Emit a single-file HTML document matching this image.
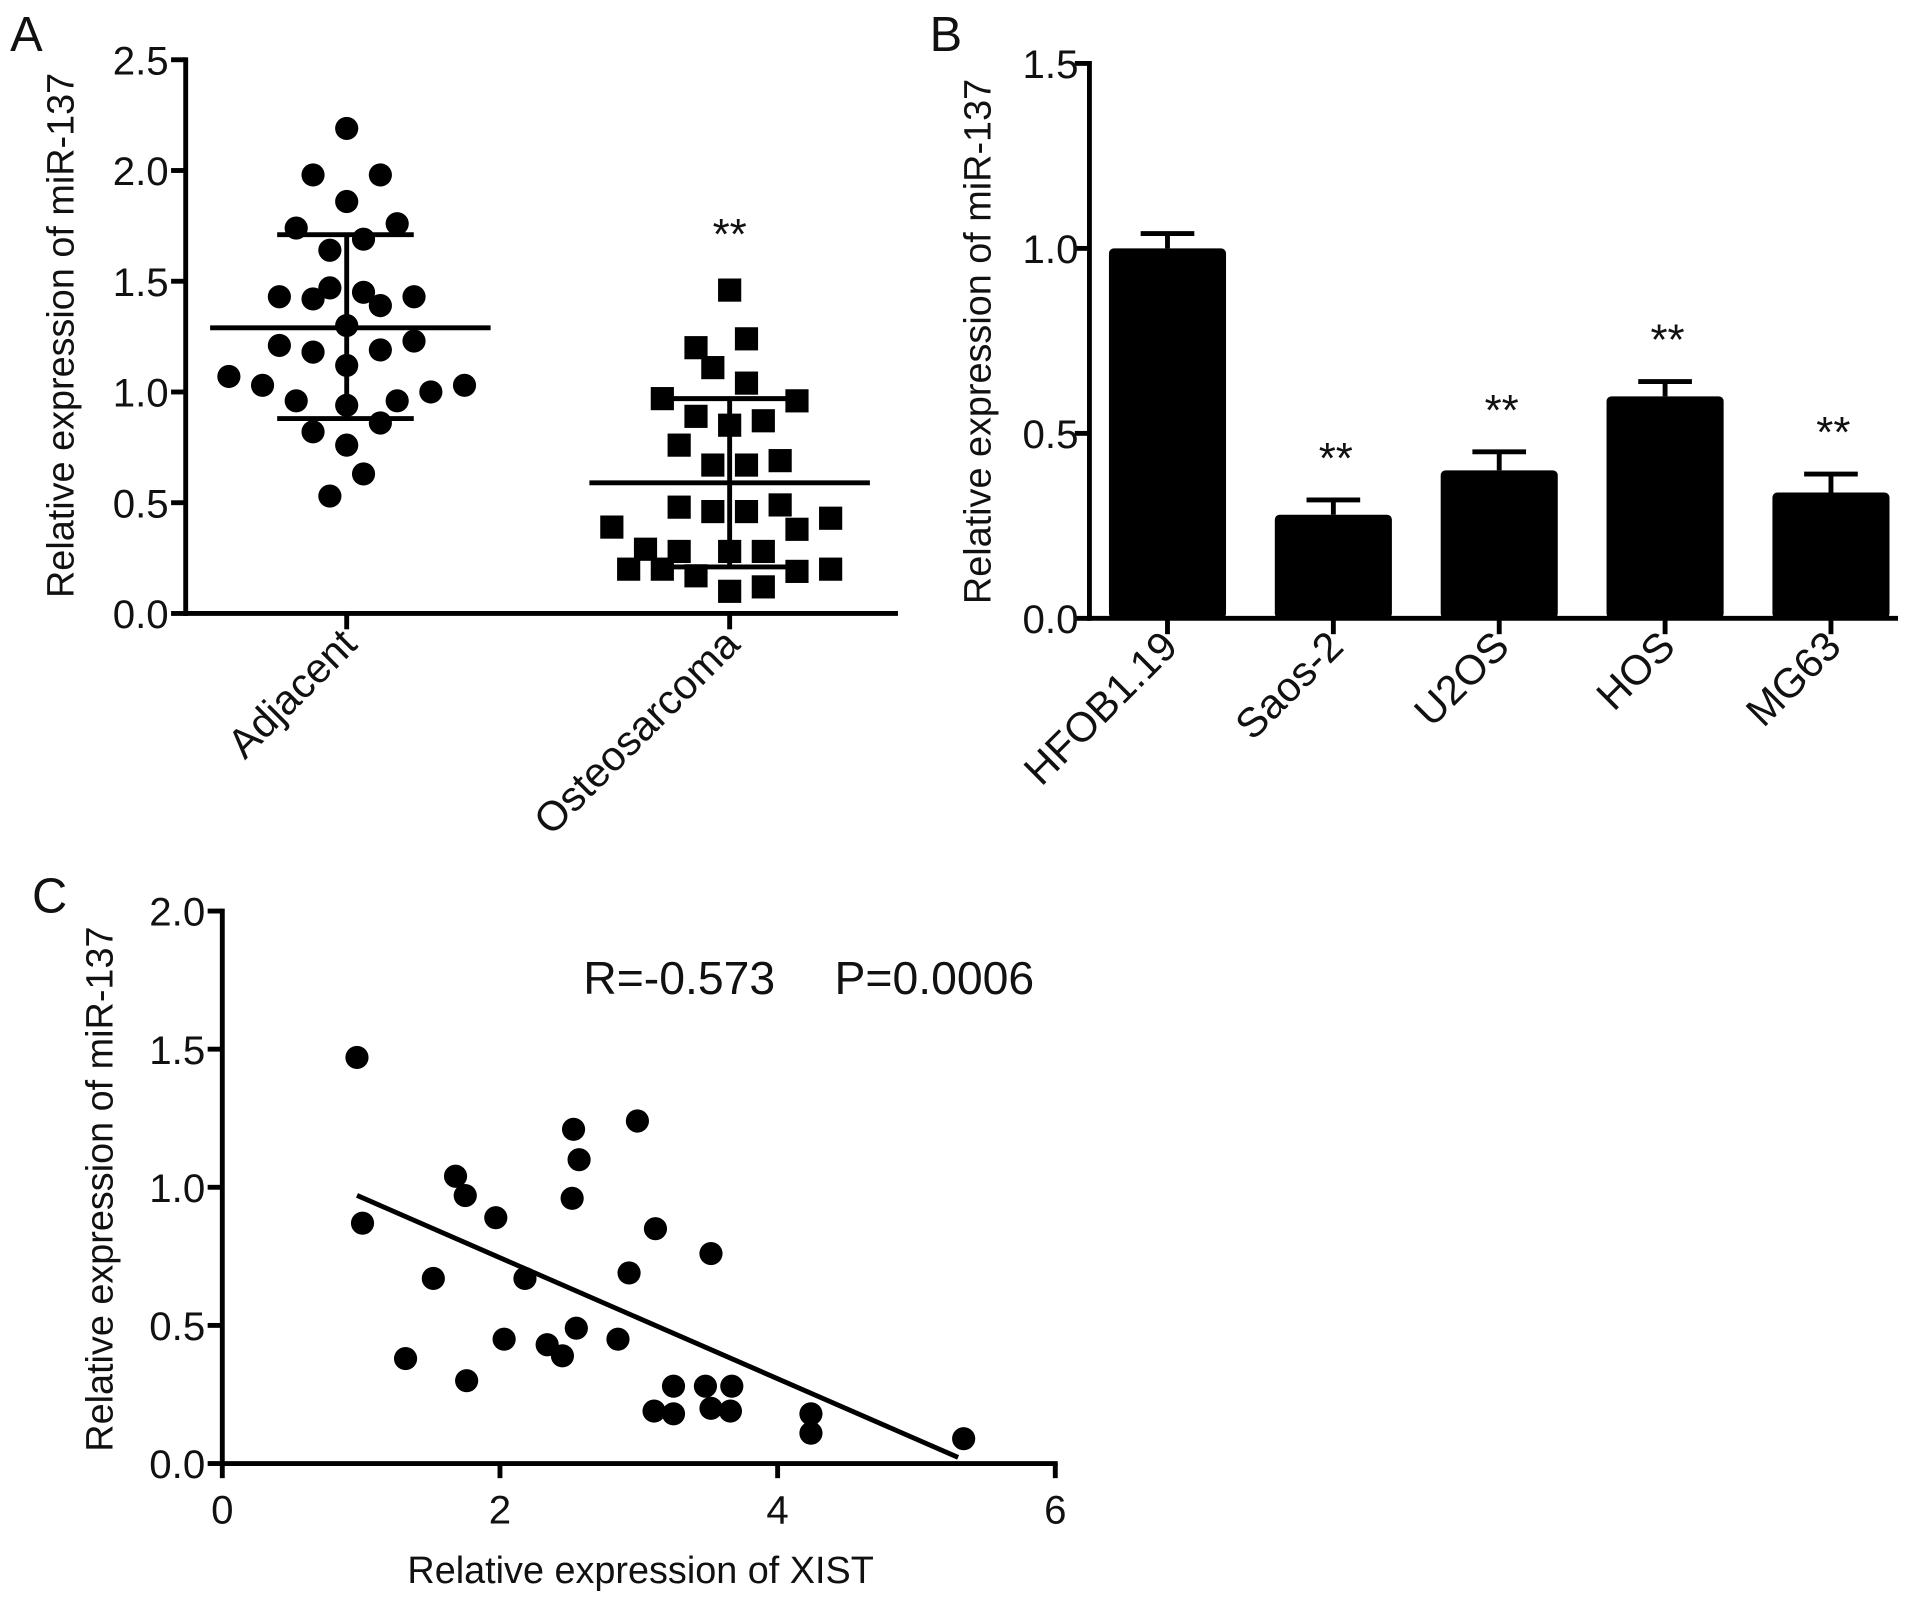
<!DOCTYPE html>
<html><head><meta charset="utf-8"><style>
html,body{margin:0;padding:0;background:#fff}
svg{display:block}
text{font-family:"Liberation Sans",Arial,sans-serif;fill:#111}
</style></head><body>
<svg id="fig" width="1913" height="1605" viewBox="0 0 1568 1316" xmlns="http://www.w3.org/2000/svg"></svg>
<script>
// Panel A data
const adjValues=[2.19,1.98,1.98,1.86,1.74,1.76,1.69,1.64,1.47,1.43,1.42,1.45,1.39,1.43,1.30,1.21,1.18,1.19,1.23,1.12,1.07,1.03,0.96,0.94,0.96,1.00,1.03,0.82,0.86,0.76,0.63,0.53];
const adjSlots=[0,-2,2,0,-3,3,1,-1,-1,-4,-2,1,2,4,0,-4,-2,2,4,0,-7,-5,-3,0,3,5,7,-2,2,0,1,-1];
const ostValues=[1.46,1.20,1.24,1.11,1.04,0.97,0.96,0.89,0.85,0.87,0.76,0.67,0.67,0.69,0.48,0.46,0.46,0.49,0.39,0.43,0.38,0.29,0.28,0.28,0.28,0.20,0.20,0.17,0.19,0.20,0.10,0.12];
const ostSlots=[0,-2,1,-1,1,-4,4,-2,0,2,-3,-1,1,3,-3,-1,1,3,-7,6,4,-5,-3,0,2,-6,-4,-2,4,6,0,2];
const aMeans=[1.29,0.59];
const aSdLow=[0.88,0.21];
const aSdHigh=[1.71,0.97];
const aCategories=["Adjacent","Osteosarcoma"];
const aTicks=["0.0","0.5","1.0","1.5","2.0","2.5"];
// Panel B data
const bCategories=["HFOB1.19","Saos-2","U2OS","HOS","MG63"];
const bValues=[1.0,0.28,0.40,0.60,0.34];
const bErrors=[0.04,0.04,0.05,0.04,0.05];
const bStars=["","**","**","**","**"];
const bTicks=["0.0","0.5","1.0","1.5"];
// Panel C data
const cX=[0.97,1.01,1.32,1.52,1.68,1.75,1.76,1.97,2.03,2.18,2.34,2.45,2.52,2.53,2.57,2.55,2.85,2.93,2.99,3.12,3.11,3.25,3.25,3.52,3.48,3.52,3.67,3.66,4.24,4.24,5.34];
const cY=[1.47,0.87,0.38,0.67,1.04,0.97,0.30,0.89,0.45,0.67,0.43,0.39,0.96,1.21,1.10,0.49,0.45,0.69,1.24,0.85,0.19,0.28,0.18,0.76,0.28,0.20,0.28,0.19,0.18,0.11,0.09];
const cFit=[1.183,-0.219];
const cFitRange=[0.97,5.3];
const cXTicks=["0","2","4","6"];
const cYTicks=["0.0","0.5","1.0","1.5","2.0"];

const NS="http://www.w3.org/2000/svg";
const svg=document.getElementById('fig');
function mk(tag,attrs,parent,txt){const e=document.createElementNS(NS,tag);for(const k in attrs)e.setAttribute(k,attrs[k]);if(txt!==undefined)e.textContent=txt;(parent||svg).appendChild(e);return e;}
function line(x1,y1,x2,y2,p,w){return mk('line',{x1,y1,x2,y2,stroke:'#000','stroke-width':w||4},p);}

// ---------- Panel A ----------
const gA=mk('g',{});


const ayA=v=>503-v*(503-49)/2.5;
const axA=i=>[284,598][i];
const slotW=13.8;
let t=mk('text',{x:8,y:42,'font-size':40},gA,'A');

line(152,47,152,505,gA);
line(150,503,736,503,gA);
aTicks.forEach((lb,i)=>{const v=parseFloat(lb);line(140,ayA(v),152,ayA(v),gA);
 const e=mk('text',{x:138,y:ayA(v)+12,'font-size':33,'text-anchor':'end'},gA,lb);
 });
t=mk('text',{transform:'translate(60,275) rotate(-90)','font-size':31,'text-anchor':'middle'},gA,'Relative expression of miR-137');

aCategories.forEach((c,i)=>{line(axA(i),503,axA(i),516,gA);
 const e=mk('text',{transform:`translate(${axA(i)+10},${530}) rotate(-45)`,'font-size':34,'text-anchor':'end'},gA,c);
 });
adjValues.forEach((v,i)=>{const e=mk('circle',{cx:axA(0)+adjSlots[i]*slotW,cy:ayA(v),r:9.5,fill:'#000'},gA);
 });
ostValues.forEach((v,i)=>{const e=mk('rect',{x:axA(1)+ostSlots[i]*slotW-9.5,y:ayA(v)-9.5,width:19,height:19,fill:'#000'},gA);
 });
[[112,118,57,55],[115,115,63,60]].forEach((w,i)=>{const cx=axA(i);
 line(cx-w[0],ayA(aMeans[i]),cx+w[1],ayA(aMeans[i]),gA);
 line(cx,ayA(aSdLow[i]),cx,ayA(aSdHigh[i]),gA);
 line(cx-w[2],ayA(aSdLow[i]),cx+w[3],ayA(aSdLow[i]),gA);
 line(cx-w[2],ayA(aSdHigh[i]),cx+w[3],ayA(aSdHigh[i]),gA);});
t=mk('text',{x:axA(1),y:204,'font-size':36,'text-anchor':'middle'},gA,'**');


// ---------- Panel B ----------
const gB=mk('g',{});


const ayB=v=>507-v*(507-52)/1.5;
const axB=i=>957+i*136;
t=mk('text',{x:762,y:42,'font-size':40},gB,'B');

line(893,50,893,509,gB);
line(891,507,1556,507,gB);
bTicks.forEach(lb=>{const v=parseFloat(lb);line(881,ayB(v),893,ayB(v),gB);
 const e=mk('text',{x:884,y:ayB(v)+12,'font-size':33,'text-anchor':'end'},gB,lb);
 });
t=mk('text',{transform:'translate(812,280) rotate(-90)','font-size':31,'text-anchor':'middle'},gB,'Relative expression of miR-137');

bCategories.forEach((c,i)=>{const cx=axB(i);
 line(cx,ayB(bValues[i]),cx,ayB(bValues[i]+bErrors[i]),gB);
 line(cx-22,ayB(bValues[i]+bErrors[i]),cx+22,ayB(bValues[i]+bErrors[i]),gB);
 const r=mk('rect',{x:cx-48,y:ayB(bValues[i]),width:96,height:ayB(0)-ayB(bValues[i]),rx:4,fill:'#000'},gB);
 
 line(cx,507,cx,520,gB);
 const e=mk('text',{transform:`translate(${cx+10},${532}) rotate(-45)`,'font-size':34,'text-anchor':'end'},gB,c);
 
 if(bStars[i]){const s=mk('text',{x:cx+2,y:ayB(bValues[i]+bErrors[i])-22,'font-size':36,'text-anchor':'middle'},gB,bStars[i]);
  }});

// ---------- Panel C ----------
const gC=mk('g',{});


const axC=v=>182+v*(865-182)/6;
const ayC=v=>1200-v*(1200-747)/2;
t=mk('text',{x:26,y:748,'font-size':40},gC,'C');

line(182,745,182,1202,gC);
line(180,1200,867,1200,gC);
cYTicks.forEach(lb=>{const v=parseFloat(lb);line(170,ayC(v),182,ayC(v),gC);
 const e=mk('text',{x:168,y:ayC(v)+12,'font-size':33,'text-anchor':'end'},gC,lb);
 });
cXTicks.forEach(lb=>{const v=parseFloat(lb);line(axC(v),1200,axC(v),1212,gC);
 const e=mk('text',{x:axC(v),y:1249,'font-size':33,'text-anchor':'middle'},gC,lb);
 });
t=mk('text',{transform:'translate(92,975) rotate(-90)','font-size':31,'text-anchor':'middle'},gC,'Relative expression of miR-137');

t=mk('text',{x:525,y:1298,'font-size':31,'text-anchor':'middle'},gC,'Relative expression of XIST');

t=mk('text',{x:478,y:815,'font-size':38},gC,'R=-0.573');

t=mk('text',{x:684,y:815,'font-size':38},gC,'P=0.0006');

cX.forEach((x,i)=>{const e=mk('circle',{cx:axC(x),cy:ayC(cY[i]),r:9.5,fill:'#000'},gC);
 });
const fl=line(axC(cFitRange[0]),ayC(cFit[0]+cFit[1]*cFitRange[0]),axC(cFitRange[1]),ayC(cFit[0]+cFit[1]*cFitRange[1]),gC);


</script>
</body></html>
